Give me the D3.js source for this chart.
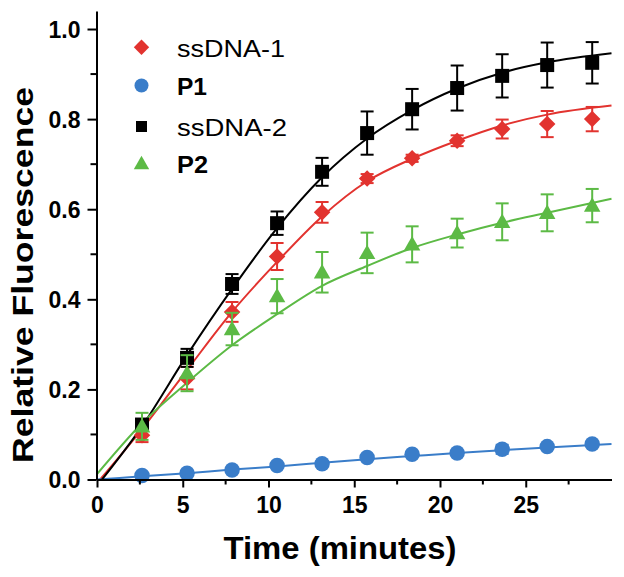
<!DOCTYPE html>
<html><head><meta charset="utf-8">
<script src="https://cdn.jsdelivr.net/npm/d3@7"></script>
<style>body{margin:0;background:#fff}svg{display:block}text{font-family:"Liberation Sans",Arial,sans-serif}</style>
</head><body><svg id="c" width="624" height="577"></svg>
<script>
// ---- data ----
const times = [2.625, 5.25, 7.875, 10.5, 13.125, 15.75, 18.375, 21, 23.625, 26.25, 28.875];
const seriesNames = ["ssDNA-1", "P1", "ssDNA-2", "P2"];
const ssDNA1 = [0.098, 0.225, 0.372, 0.495, 0.593, 0.668, 0.713, 0.752, 0.778, 0.789, 0.800];
const ssDNA1Err = [0.015, 0.025, 0.022, 0.030, 0.023, 0.010, 0.008, 0.012, 0.021, 0.029, 0.027];
const P1 = [0.009, 0.014, 0.021, 0.031, 0.035, 0.049, 0.056, 0.059, 0.067, 0.073, 0.079];
const P1Err = [0.006, 0.003, 0.003, 0.003, 0.005, 0.003, 0.004, 0.003, 0.010, 0.004, 0.003];
const ssDNA2 = [0.122, 0.270, 0.434, 0.569, 0.683, 0.769, 0.822, 0.869, 0.896, 0.920, 0.925];
const ssDNA2Err = [0.012, 0.020, 0.022, 0.026, 0.031, 0.048, 0.045, 0.050, 0.048, 0.050, 0.046];
const P2 = [0.118, 0.236, 0.334, 0.407, 0.460, 0.503, 0.522, 0.547, 0.572, 0.592, 0.608];
const P2Err = [0.030, 0.040, 0.036, 0.038, 0.045, 0.045, 0.040, 0.032, 0.041, 0.041, 0.037];
// fitted curves
const fitT = [0, 2.625, 5.25, 7.875, 10.5, 13.125, 15.75, 18.375, 21, 23.625, 26.25, 30];
const fit1 = [-0.008, 0.112, 0.243, 0.372, 0.483, 0.584, 0.662, 0.712, 0.752, 0.786, 0.810, 0.830];
const fitP1 = [0.000, 0.007, 0.014, 0.022, 0.029, 0.037, 0.045, 0.052, 0.059, 0.065, 0.071, 0.079];
const fit2 = [-0.014, 0.118, 0.276, 0.423, 0.558, 0.671, 0.757, 0.820, 0.868, 0.903, 0.926, 0.946];
const fitP2 = [0.012, 0.125, 0.215, 0.298, 0.367, 0.430, 0.474, 0.514, 0.544, 0.570, 0.592, 0.623];
const xTicks = [0, 5, 10, 15, 20, 25];
const yTicks = [0.0, 0.2, 0.4, 0.6, 0.8, 1.0];
const xMinor = [2.5, 7.5, 12.5, 17.5, 22.5, 27.5];
const yMinor = [0.1, 0.3, 0.5, 0.7, 0.9];

const colors = {"ssDNA-1": "#e2332f", "P1": "#3a7dc9", "ssDNA-2": "#000000", "P2": "#5cba45"};
const symbols = {"ssDNA-1": "diamond", "P1": "circle", "ssDNA-2": "square", "P2": "triangle"};
const bold = {"ssDNA-1": false, "P1": true, "ssDNA-2": false, "P2": true};

const series = [
  {name: "ssDNA-1", v: ssDNA1, e: ssDNA1Err, fit: fit1},
  {name: "P1", v: P1, e: P1Err, fit: fitP1},
  {name: "ssDNA-2", v: ssDNA2, e: ssDNA2Err, fit: fit2},
  {name: "P2", v: P2, e: P2Err, fit: fitP2}
];

const svg = d3.select("#c");
const x = d3.scaleLinear().domain([0, 30]).range([97, 611.5]);
const y = d3.scaleLinear().domain([0, 1.04]).range([479.5, 11]);

svg.append("clipPath").attr("id", "pc").append("rect")
  .attr("x", 97).attr("y", 0).attr("width", 515).attr("height", 479.5);

// fits
const line = d3.line().x(d => x(d[0])).y(d => y(d[1])).curve(d3.curveMonotoneX);
series.forEach(s => {
  svg.append("path").attr("clip-path", "url(#pc)")
    .attr("d", line(fitT.map((t, i) => [t, s.fit[i]])))
    .attr("fill", "none").attr("stroke", colors[s.name]).attr("stroke-width", 2);
});

// error bars + markers
function marker(g, type, cx, cy, sz, col) {
  if (type === "circle") g.append("circle").attr("cx", cx).attr("cy", cy).attr("r", sz / 2).attr("fill", col);
  else if (type === "square") g.append("rect").attr("x", cx - sz / 2).attr("y", cy - sz / 2).attr("width", sz).attr("height", sz).attr("fill", col);
  else if (type === "diamond") { const h = sz * 0.55; g.append("path").attr("d", `M${cx},${cy - h}L${cx + h},${cy}L${cx},${cy + h}L${cx - h},${cy}Z`).attr("fill", col); }
  else if (type === "triangle") { const h = sz * 0.55; g.append("path").attr("d", `M${cx},${cy - h}L${cx + h},${cy + h * 0.75}L${cx - h},${cy + h * 0.75}Z`).attr("fill", col); }
}
series.forEach(s => {
  const g = svg.append("g");
  const col = colors[s.name];
  times.forEach((t, i) => {
    const cx = x(t), y1 = y(s.v[i] + s.e[i]), y0 = y(s.v[i] - s.e[i]);
    g.append("line").attr("x1", cx).attr("x2", cx).attr("y1", y1).attr("y2", y0).attr("stroke", col).attr("stroke-width", 2);
    [y1, y0].forEach(yy => g.append("line").attr("x1", cx - 6.5).attr("x2", cx + 6.5).attr("y1", yy).attr("y2", yy).attr("stroke", col).attr("stroke-width", 2));
  });
  times.forEach((t, i) => marker(g, symbols[s.name], x(t), y(s.v[i]), s.name === "ssDNA-2" ? 14 : (s.name === "P1" ? 15.5 : 15), col));
});

// axes
const ax = svg.append("g").attr("transform", "translate(0,479.5)")
  .call(d3.axisBottom(x).tickValues(xTicks).tickSize(8).tickSizeOuter(0).tickFormat(d3.format("d")));
ax.append("g").selectAll("line").data(xMinor).join("line")
  .attr("x1", d => x(d)).attr("x2", d => x(d)).attr("y1", 0).attr("y2", 5).attr("stroke", "#000").attr("stroke-width", 2);
const ay = svg.append("g").attr("transform", "translate(96.5,0)")
  .call(d3.axisLeft(y).tickValues(yTicks).tickSize(9).tickSizeOuter(0).tickFormat(d3.format(".1f")));
ay.append("g").selectAll("line").data(yMinor).join("line")
  .attr("y1", d => y(d)).attr("y2", d => y(d)).attr("x1", 0).attr("x2", -6).attr("stroke", "#000").attr("stroke-width", 2);
[ax, ay].forEach(a => {
  a.select(".domain").attr("stroke-width", 2);
  a.selectAll(".tick line").attr("stroke-width", 2);
  a.selectAll("text").attr("font-family", "Liberation Sans, Arial, sans-serif").attr("font-weight", "bold").attr("font-size", 23).attr("fill", "#000");
});
ax.selectAll(".tick text").attr("y", 17).attr("dy", "0.71em");
ay.selectAll(".tick text").attr("x", -16).attr("dy", "0.36em");

// titles
svg.append("text").attr("x", 340).attr("y", 559).attr("text-anchor", "middle")
  .attr("font-size", 32).attr("font-weight", "bold").attr("textLength", 233).attr("lengthAdjust", "spacingAndGlyphs")
  .text("Time (minutes)");
svg.append("text").attr("transform", "translate(33,275) rotate(-90)").attr("text-anchor", "middle")
  .attr("font-size", 30).attr("font-weight", "bold").attr("textLength", 376).attr("lengthAdjust", "spacingAndGlyphs")
  .text("Relative Fluorescence");

// legend
const legY = [47.3, 85.5, 126.5, 163.5];
const legW = [108, 30, 110, 31];
seriesNames.forEach((n, i) => {
  const g = svg.append("g");
  marker(g, symbols[n], 141.5, legY[i], n === "ssDNA-2" ? 11 : 14, colors[n]);
  g.append("text").attr("x", 177).attr("y", legY[i] + 9.5).attr("font-size", 23)
    .attr("font-weight", bold[n] ? "bold" : "normal").attr("textLength", legW[i]).attr("lengthAdjust", "spacingAndGlyphs").text(n);
});
</script></body></html>
